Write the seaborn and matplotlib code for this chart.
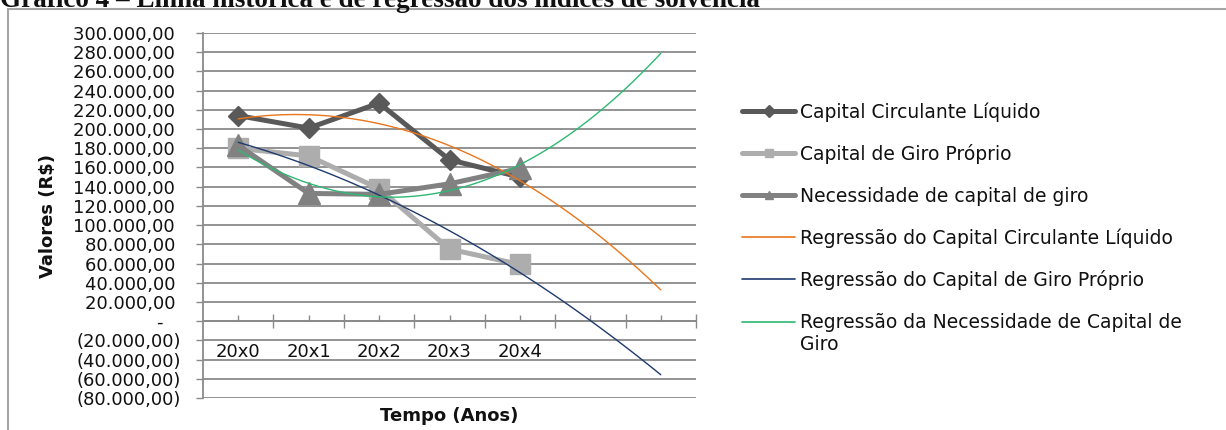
import matplotlib
matplotlib.use("Agg")
import matplotlib.pyplot as plt
from matplotlib.lines import Line2D
from matplotlib.patches import Rectangle
from matplotlib.ticker import FixedLocator, FuncFormatter
import numpy as np
import pandas as pd
import seaborn as sns

# Índices de solvência por ano (R$)
anos = ["20x0", "20x1", "20x2", "20x3", "20x4"]
ccl = [214000, 201000, 227000, 168000, 150000]   # Capital Circulante Líquido
cgp = [180000, 172000, 138000, 75000, 59000]     # Capital de Giro Próprio
ncg = [183000, 133000, 132000, 143000, 159000]   # Necessidade de capital de giro
periodos_projecao = 2                            # períodos projetados pela regressão

series_names = ["Capital Circulante Líquido", "Capital de Giro Próprio",
                "Necessidade de capital de giro"]
reg_names = ["Regressão do Capital Circulante Líquido",
             "Regressão do Capital de Giro Próprio",
             "Regressão da Necessidade de Capital de\nGiro"]

sns.set_style("white")
plt.rcParams["font.family"] = ["DejaVu Sans"]

GRID = "#8a8a8a"
series_colors = ["#595959", "#adadad", "#818181"]
series_markers = ["D", "s", "^"]
series_msize = [10.5, 15, 16]
reg_colors = ["#e8761c", "#1f3a6e", "#2eb872"]

pos = np.arange(len(anos))
df = pd.DataFrame({"pos": pos, "ccl": ccl, "cgp": cgp, "ncg": ncg})

fig = plt.figure(figsize=(12.26, 4.30), dpi=100)
ax = fig.add_axes([203 / 1226, 1 - 398 / 430, (696 - 203) / 1226, (398 - 33) / 430])

# Séries históricas
for col, c, m, ms in zip(["ccl", "cgp", "ncg"], series_colors, series_markers, series_msize):
    sns.lineplot(data=df, x="pos", y=col, ax=ax, color=c, lw=3.6, marker=m,
                 markersize=ms, markeredgecolor=c, markeredgewidth=1, zorder=3)

# Linhas de regressão polinomial (ordem 2), projetadas dois períodos à frente
ax.set_xlim(0, len(anos) - 1 + periodos_projecao)
for col, c in zip(["ccl", "cgp", "ncg"], reg_colors):
    sns.regplot(data=df, x="pos", y=col, ax=ax, order=2, ci=None, scatter=False,
                truncate=False, line_kws={"color": c, "lw": 1.0, "zorder": 4})

n_cat = len(anos) + periodos_projecao
ax.set_xlim(-0.5, n_cat - 0.5)
ax.set_ylim(-80000, 300000)

# Eixo Y
ax.yaxis.set_major_locator(FixedLocator(np.arange(-80000, 300001, 20000)))


def fmt_valor(v, _):
    if abs(v) < 1:
        return "-   "
    s = f"{abs(v):,.2f}".replace(",", "X").replace(".", ",").replace("X", ".")
    return f"({s})" if v < 0 else s + " "


ax.yaxis.set_major_formatter(FuncFormatter(fmt_valor))
ax.grid(axis="y", color=GRID, lw=1.3)
ax.grid(axis="x", visible=False)
ax.tick_params(axis="y", direction="out", length=5, width=1, color=GRID,
               pad=11, labelsize=13, labelcolor="#111111", left=True)

# Eixo X cruzando em zero
for s in ["top", "right"]:
    ax.spines[s].set_visible(False)
ax.spines["bottom"].set_position(("data", 0))
ax.spines["bottom"].set_color(GRID)
ax.spines["bottom"].set_linewidth(1.3)
ax.spines["left"].set_color(GRID)
ax.spines["left"].set_linewidth(1.3)

ax.set_xticks(np.arange(0.5, n_cat, 1.0))
ax.set_xticklabels([])
ax.set_xticks(np.arange(n_cat), minor=True)
ax.set_xticklabels(anos + [""] * periodos_projecao, minor=True)
ax.tick_params(axis="x", which="major", direction="inout", length=10, width=1,
               color=GRID, bottom=True)
ax.tick_params(axis="x", which="minor", direction="in", length=4, width=1,
               color=GRID, pad=16, labelsize=13, labelcolor="#111111", bottom=True)

ax.set_xlabel("Tempo (Anos)", fontsize=13, fontweight="bold", color="#111111")
ax.set_ylabel("Valores (R$)", fontsize=13, fontweight="bold", color="#111111")
ax.xaxis.set_label_coords(0.5, -0.025)
ax.yaxis.set_label_coords((57 - 203) / 493, 0.5)

# Legenda
handles = [Line2D([], [], color=c, lw=3.6, marker=m, markersize=6,
                  markeredgecolor=c) for c, m in zip(series_colors, series_markers)]
handles += [Line2D([], [], color=c, lw=1.2) for c in reg_colors]
leg = fig.legend(handles, series_names + reg_names, loc="upper left",
                 bbox_to_anchor=(742 / 1226, 1 - 102 / 430), frameon=False,
                 fontsize=13.5, handlelength=2.85, handletextpad=0.25,
                 labelspacing=1.2, borderpad=0, borderaxespad=0,
                 labelcolor="#111111")
# a amostra da última entrada acompanha a primeira linha do rótulo
ultima = leg.get_lines()[-1]
ultima.set_ydata(np.asarray(ultima.get_ydata()) + 8.3)

# Moldura e título
fig.patches.append(Rectangle((8 / 1226, -0.1), 1.2, 1.1 - 9 / 430,
                             transform=fig.transFigure, fill=False,
                             edgecolor="#a6a6a6", lw=1.5))
fig.text(0.0, 1 - 7 / 430, "Gráfico 4 – Linha histórica e de regressão dos índices de solvência",
         family=["Liberation Serif", "DejaVu Serif"], fontweight="bold", fontsize=19.5,
         va="baseline", ha="left", color="#111111")

fig.savefig("out.png", dpi=100)
